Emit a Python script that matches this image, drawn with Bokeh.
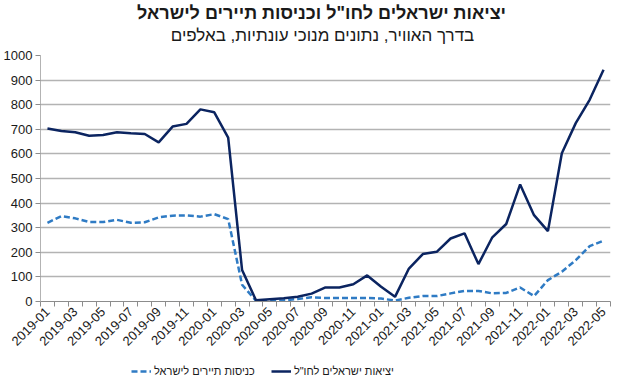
import math
from bokeh.plotting import figure
from bokeh.layouts import column
from bokeh.models import Label, Legend, LegendItem, FixedTicker, ColumnDataSource, Range1d
from bokeh.embed import file_html
from bokeh.resources import INLINE

months = ["2019-01", "2019-02", "2019-03", "2019-04", "2019-05", "2019-06",
          "2019-07", "2019-08", "2019-09", "2019-10", "2019-11", "2019-12",
          "2020-01", "2020-02", "2020-03", "2020-04", "2020-05", "2020-06",
          "2020-07", "2020-08", "2020-09", "2020-10", "2020-11", "2020-12",
          "2021-01", "2021-02", "2021-03", "2021-04", "2021-05", "2021-06",
          "2021-07", "2021-08", "2021-09", "2021-10", "2021-11", "2021-12",
          "2022-01", "2022-02", "2022-03", "2022-04", "2022-05"]

israelis_abroad = [703, 693, 688, 674, 677, 688, 684, 681, 647, 711, 722, 781,
                   769, 666, 128, 5, 9, 13, 19, 32, 57, 57, 70, 106,
                   60, 19, 134, 193, 202, 256, 277, 152, 261, 315, 476, 351,
                   286, 603, 725, 820, 942]

tourists_in = [320, 347, 338, 323, 323, 332, 320, 322, 342, 349, 350, 345,
               355, 335, 68, 3, 2, 5, 10, 17, 14, 14, 14, 14,
               12, 4, 15, 22, 22, 33, 43, 43, 33, 35, 57, 22,
               87, 121, 168, 225, 247]

y_ticks = [0, 100, 200, 300, 400, 500, 600, 700, 800, 900, 1000]

title_text = 'יציאות ישראלים לחו"ל וכניסות תיירים לישראל'
subtitle_text = "בדרך האוויר, נתונים מנוכי עונתיות, באלפים"
label_israelis = 'יציאות ישראלים לחו"ל'
label_tourists = "כניסות תיירים לישראל"

FONT = "Liberation Sans"
TXT = "#1a1a1a"
C_ISR = "#0b2460"
C_TOUR = "#2f7bc4"
W = 606


def bare(fig):
    fig.xgrid.visible = False
    fig.ygrid.visible = False
    fig.outline_line_color = None


# ---- title block ----
pt = figure(width=W, height=47, output_backend="svg", toolbar_location=None,
            x_range=Range1d(0, W), y_range=Range1d(0, 47),
            x_axis_location=None, y_axis_location=None,
            min_border_left=0, min_border_right=0, min_border_top=0, min_border_bottom=0)
bare(pt)
pt.add_layout(Label(x=302, y=35, text=title_text, text_font=FONT, text_font_size="18px",
                    text_font_style="bold", text_color=TXT, text_align="center",
                    text_baseline="middle"))
pt.add_layout(Label(x=303, y=12, text=subtitle_text, text_font=FONT, text_font_size="17px",
                    text_color=TXT, text_align="center", text_baseline="middle"))

# ---- main chart ----
idx = list(range(len(months)))
src = ColumnDataSource(dict(x=idx, isr=israelis_abroad, tour=tourists_in))

p = figure(frame_width=570, frame_height=246, output_backend="svg", toolbar_location=None,
           x_range=Range1d(-0.5, len(months) - 0.5), y_range=Range1d(0, 1000),
           min_border_left=34, min_border_right=2, min_border_top=8, min_border_bottom=0)

p.line("x", "tour", source=src, line_color=C_TOUR, line_width=2.5, line_dash="6 3")
p.line("x", "isr", source=src, line_color=C_ISR, line_width=2.5)

p.outline_line_color = None
p.xgrid.visible = False
p.ygrid.grid_line_color = "#b3b3b3"
p.ygrid.grid_line_width = 1.5

xa = p.xaxis[0]
xa.ticker = FixedTicker(ticks=idx[::2], minor_ticks=[i - 0.5 for i in range(len(months) + 1)])
xa.major_label_overrides = {i: months[i] for i in idx[::2]}
xa.major_label_orientation = math.pi / 4
xa.major_tick_line_color = None
xa.minor_tick_line_color = "#8c8c8c"
xa.minor_tick_in = 0
xa.minor_tick_out = 5
xa.axis_line_color = "#8c8c8c"
xa.major_label_text_font = FONT
xa.major_label_text_font_size = "13px"
xa.major_label_text_color = TXT
xa.major_label_standoff = 2

ya = p.yaxis[0]
ya.ticker = FixedTicker(ticks=y_ticks)
ya.major_tick_in = 0
ya.major_tick_out = 5
ya.major_tick_line_color = "#8c8c8c"
ya.minor_tick_line_color = None
ya.axis_line_color = "#b3b3b3"
ya.major_label_text_font = FONT
ya.major_label_text_font_size = "13px"
ya.major_label_text_color = TXT
ya.major_label_standoff = 3

# ---- legend strip (same series, drawn off-range so only the legend shows) ----
pl = figure(width=W, height=26, output_backend="svg", toolbar_location=None,
            x_range=Range1d(0, 1), y_range=Range1d(-10, -9),
            x_axis_location=None, y_axis_location=None,
            min_border_left=0, min_border_right=0, min_border_top=0, min_border_bottom=0)
bare(pl)
lt = pl.line("x", "tour", source=src, line_color=C_TOUR, line_width=2.5, line_dash="6 3")
li = pl.line("x", "isr", source=src, line_color=C_ISR, line_width=2.5)
legend = Legend(items=[LegendItem(label=label_tourists, renderers=[lt]),
                       LegendItem(label=label_israelis, renderers=[li])],
                orientation="horizontal", location=(91, 0),
                label_text_font=FONT, label_text_font_size="11px", label_text_color=TXT,
                glyph_width=20, glyph_height=14, spacing=16, border_line_color=None,
                background_fill_alpha=0, padding=1, margin=0, label_standoff=3,
                label_height=14)
pl.add_layout(legend, "center")

layout = column(pt, p, pl, spacing=0)
open("out.html", "w").write(file_html(layout, INLINE))
